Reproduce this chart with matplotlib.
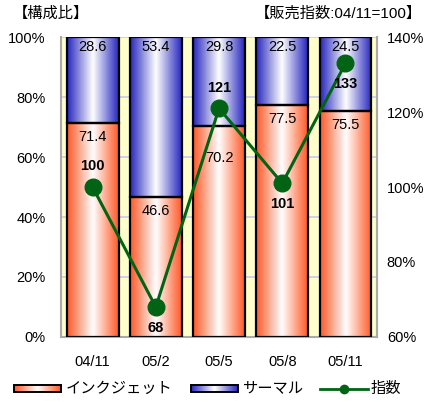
import matplotlib
matplotlib.use("Agg")
import matplotlib.pyplot as plt
import numpy as np
from matplotlib.colors import LinearSegmentedColormap
from matplotlib.patches import Rectangle

plt.rcParams['font.family'] = ['Liberation Sans', 'Noto Sans CJK JP', 'DejaVu Sans']

categories = ['04/11', '05/2', '05/5', '05/8', '05/11']
inkjet = [71.4, 46.6, 70.2, 77.5, 75.5]
thermal = [28.6, 53.4, 29.8, 22.5, 24.5]
index_vals = [100, 68, 121, 101, 133]
index_label_below = [False, True, False, True, True]

orange_cmap = LinearSegmentedColormap.from_list('ora', ['#ff5a28', '#ffffff', '#ff5a28'])
blue_cmap = LinearSegmentedColormap.from_list('blu', ['#2828c0', '#ffffff', '#2828c0'])
grad = np.linspace(0, 1, 64).reshape(1, -1)
GREEN = '#006414'
FS = 10.5


def gradient_bar(ax, x, bottom, height, width, cmap):
    x0 = x - width / 2
    ax.imshow(grad, cmap=cmap, aspect='auto', interpolation='bilinear',
              extent=(x0, x0 + width, bottom, bottom + height), zorder=2)
    ax.add_patch(Rectangle((x0, bottom), width, height, fill=False,
                           edgecolor='black', linewidth=1.6, zorder=3))


fig = plt.figure(figsize=(4.28, 4.04), dpi=100)
ax = fig.add_axes([0.1425, 0.166, 0.7385, 0.742])
ax.set_facecolor('#ffffcc')

x = np.arange(len(categories))
width = 0.82
for i in x:
    gradient_bar(ax, i, 0, inkjet[i], width, orange_cmap)
    gradient_bar(ax, i, inkjet[i], thermal[i], width, blue_cmap)
    # the 05/5 value sits lower so it clears the index line
    if i == 2:
        ax.text(i, 59.7, f'{inkjet[i]:.1f}', ha='center', va='center',
                fontsize=FS, zorder=5)
    else:
        ax.annotate(f'{inkjet[i]:.1f}', (i, inkjet[i]), xytext=(0, -10),
                    textcoords='offset points', ha='center', va='center',
                    fontsize=FS, zorder=5)
    ax.text(i, 96.7, f'{thermal[i]:.1f}', ha='center', va='center',
            fontsize=FS, zorder=5)

ax.set_xlim(-0.5, len(categories) - 0.5)
ax.set_ylim(0, 100)
ax.set_yticks([0, 20, 40, 60, 80, 100])
ax.set_yticklabels([f'{v}%' for v in [0, 20, 40, 60, 80, 100]])
ax.yaxis.grid(True, color='#c8c8f0', linewidth=1.2, zorder=1)
ax.set_axisbelow(True)
ax.set_xticks(x)
ax.set_xticklabels(categories)
ax.tick_params(axis='both', length=0, labelsize=FS)
ax.tick_params(axis='x', pad=13)
ax.tick_params(axis='y', pad=11)
ax.spines['top'].set_visible(False)
for side in ['left', 'right', 'bottom']:
    ax.spines[side].set_color('#aaaaaa')
    ax.spines[side].set_linewidth(1.5)

ax2 = ax.twinx()
ax2.set_ylim(60, 140)
ax2.set_yticks([60, 80, 100, 120, 140])
ax2.set_yticklabels([f'{v}%' for v in [60, 80, 100, 120, 140]])
ax2.tick_params(axis='y', length=0, labelsize=FS, pad=7)
for side in ['top', 'left', 'bottom']:
    ax2.spines[side].set_visible(False)
ax2.spines['right'].set_color('#aaaaaa')
ax2.spines['right'].set_linewidth(1.5)
ax2.plot(x, index_vals, color=GREEN, linewidth=2.2, marker='o',
         markersize=12, zorder=6)
for i in x:
    dy = -15 if index_label_below[i] else 15
    ax2.annotate(str(index_vals[i]), (i, index_vals[i]), xytext=(0, dy),
                 textcoords='offset points', ha='center', va='center',
                 fontsize=FS, fontweight='bold', zorder=7)

fig.text(0.03, 0.967, '【構成比】', ha='left', va='center', fontsize=11)
fig.text(0.985, 0.967, '【販売指数:04/11=100】', ha='right', va='center', fontsize=11)

# legend drawn by hand with gradient swatches
lax = fig.add_axes([0, 0, 1, 0.08])
lax.set_xlim(0, 428)
lax.set_ylim(0, 32.32)
lax.axis('off')
lax.imshow(grad, cmap=orange_cmap, aspect='auto', extent=(14, 61, 12, 19))
lax.add_patch(Rectangle((14, 12), 47, 7, fill=False, edgecolor='black', linewidth=1.4))
lax.text(66, 15.5, 'インクジェット', va='center', fontsize=11)
lax.imshow(grad, cmap=blue_cmap, aspect='auto', extent=(191, 238, 12, 19))
lax.add_patch(Rectangle((191, 12), 47, 7, fill=False, edgecolor='black', linewidth=1.4))
lax.text(242, 15.5, 'サーマル', va='center', fontsize=11)
lax.plot([320, 368], [15.5, 15.5], color=GREEN, linewidth=2)
lax.plot([344], [15.5], 'o', color=GREEN, markersize=6)
lax.text(371, 15.5, '指数', va='center', fontsize=11)

fig.savefig('out.png', dpi=100)
